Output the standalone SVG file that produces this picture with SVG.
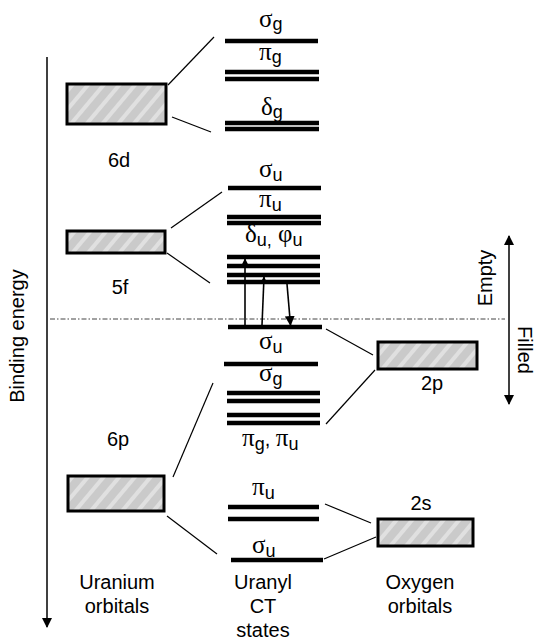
<svg xmlns="http://www.w3.org/2000/svg" width="537" height="640" viewBox="0 0 537 640">
  <style>
    .lbl { font-family: "Liberation Sans", Arial, sans-serif; font-size: 20px; fill: #000; }
    .gk { font-family: "Liberation Serif", "Times New Roman", serif; font-size: 25px; }
    .sub { font-family: "Liberation Sans", Arial, sans-serif; font-size: 18px; }
    .box { fill: url(#hatch); stroke: #000; stroke-width: 3; }
    .lvl { stroke: #000; stroke-width: 4.3; fill: none; }
    .conn { stroke: #000; stroke-width: 1.2; fill: none; }
    .arr { stroke: #000; stroke-width: 1.6; fill: none; }
  </style>
  <defs>
    <pattern id="hatch" patternUnits="userSpaceOnUse" width="12" height="12" patternTransform="rotate(40)">
      <rect width="12" height="12" fill="#cacaca"/>
      <rect width="4" height="12" fill="#e0e0e0"/>
    </pattern>
    <marker id="tip" viewBox="0 0 10 10" refX="9" refY="5" markerWidth="10" markerHeight="10" markerUnits="userSpaceOnUse" orient="auto">
      <path d="M0,0 L10,5 L0,10 Z" fill="#000"/>
    </marker>
    <marker id="tipS" viewBox="0 0 10 10" refX="9" refY="5" markerWidth="7" markerHeight="7" markerUnits="userSpaceOnUse" orient="auto">
      <path d="M0,0 L10,5 L0,10 Z" fill="#000"/>
    </marker>
    <marker id="tipB" viewBox="0 0 10 10" refX="1" refY="5" markerWidth="10" markerHeight="10" markerUnits="userSpaceOnUse" orient="auto">
      <path d="M10,0 L0,5 L10,10 Z" fill="#000"/>
    </marker>
  </defs>

  <!-- energy axis -->
  <g id="axis">
    <line x1="47" y1="57" x2="47" y2="627" stroke="#000" stroke-width="1.5" marker-end="url(#tip)"/>
    <text class="lbl" transform="translate(24,336) rotate(-90)" text-anchor="middle">Binding energy</text>
  </g>

  <!-- Fermi level separator -->
  <g id="fermi">
    <line x1="50" y1="319" x2="505" y2="319" stroke="#444" stroke-width="1" stroke-dasharray="5 2 1.5 2"/>
  </g>

  <!-- empty / filled indicator -->
  <g id="occupancy">
    <line x1="509" y1="236" x2="509" y2="404" stroke="#000" stroke-width="1.5" marker-start="url(#tipB)" marker-end="url(#tip)"/>
    <text class="lbl" transform="translate(492,278) rotate(-90)" text-anchor="middle">Empty</text>
    <text class="lbl" transform="translate(518,350) rotate(90)" text-anchor="middle">Filled</text>
  </g>

  <!-- uranium orbitals -->
  <g id="u6d">
    <rect class="box" x="67" y="84" width="99" height="40"/>
    <text class="lbl" x="119" y="167" text-anchor="middle">6d</text>
  </g>
  <g id="u5f">
    <rect class="box" x="67" y="231" width="98" height="22"/>
    <text class="lbl" x="120" y="294" text-anchor="middle">5f</text>
  </g>
  <g id="u6p">
    <rect class="box" x="68" y="476" width="96" height="35"/>
    <text class="lbl" x="118" y="446" text-anchor="middle">6p</text>
  </g>

  <!-- oxygen orbitals -->
  <g id="o2p">
    <rect class="box" x="378" y="342" width="99" height="27"/>
    <text class="lbl" x="432" y="390" text-anchor="middle">2p</text>
  </g>
  <g id="o2s">
    <rect class="box" x="378" y="519" width="95" height="27"/>
    <text class="lbl" x="421" y="510" text-anchor="middle">2s</text>
  </g>

  <!-- uranyl molecular levels -->
  <g id="sigma_g_top">
    <line class="lvl" x1="225" y1="41" x2="318" y2="41"/>
    <text class="lbl" x="259" y="27"><tspan class="gk">σ</tspan><tspan class="sub" dy="3">g</tspan></text>
  </g>
  <g id="pi_g_top">
    <line class="lvl" x1="225" y1="72" x2="319" y2="72"/>
    <line class="lvl" x1="225" y1="79" x2="319" y2="79"/>
    <text class="lbl" x="259" y="60"><tspan class="gk">π</tspan><tspan class="sub" dy="3">g</tspan></text>
  </g>
  <g id="delta_g">
    <line class="lvl" x1="225" y1="123" x2="319" y2="123"/>
    <line class="lvl" x1="225" y1="129" x2="319" y2="129"/>
    <text class="lbl" x="261" y="115"><tspan class="gk">δ</tspan><tspan class="sub" dy="3">g</tspan></text>
  </g>
  <g id="sigma_u_upper">
    <line class="lvl" x1="228" y1="188" x2="321" y2="188"/>
    <text class="lbl" x="259" y="177"><tspan class="gk">σ</tspan><tspan class="sub" dy="4">u</tspan></text>
  </g>
  <g id="pi_u_upper">
    <line class="lvl" x1="227" y1="217" x2="321" y2="217"/>
    <line class="lvl" x1="227" y1="223" x2="321" y2="223"/>
    <text class="lbl" x="259" y="207"><tspan class="gk">π</tspan><tspan class="sub" dy="4">u</tspan></text>
  </g>
  <g id="delta_phi_u">
    <line class="lvl" x1="227" y1="257" x2="320" y2="257"/>
    <line class="lvl" x1="227" y1="266" x2="320" y2="266"/>
    <line class="lvl" x1="227" y1="275" x2="320" y2="275"/>
    <line class="lvl" x1="227" y1="282" x2="320" y2="282"/>
    <text class="lbl" x="245" y="242"><tspan class="gk">δ</tspan><tspan class="sub" dy="4">u,</tspan><tspan class="gk" dy="-4"> φ</tspan><tspan class="sub" dy="4">u</tspan></text>
  </g>
  <g id="sigma_u_mid">
    <line class="lvl" x1="228" y1="327" x2="322" y2="327"/>
    <text class="lbl" x="259" y="349"><tspan class="gk">σ</tspan><tspan class="sub" dy="4">u</tspan></text>
  </g>
  <g id="sigma_g_mid">
    <line class="lvl" x1="224" y1="364" x2="318" y2="364"/>
    <text class="lbl" x="259" y="381"><tspan class="gk">σ</tspan><tspan class="sub" dy="4">g</tspan></text>
  </g>
  <g id="pi_g_pi_u">
    <line class="lvl" x1="227" y1="393" x2="320" y2="393"/>
    <line class="lvl" x1="227" y1="401" x2="320" y2="401"/>
    <line class="lvl" x1="227" y1="415" x2="320" y2="415"/>
    <line class="lvl" x1="227" y1="423" x2="320" y2="423"/>
    <text class="lbl" x="242" y="446"><tspan class="gk">π</tspan><tspan class="sub" dy="4">g</tspan><tspan dy="-4">, </tspan><tspan class="gk">π</tspan><tspan class="sub" dy="4">u</tspan></text>
  </g>
  <g id="pi_u_low">
    <line class="lvl" x1="228" y1="507" x2="319" y2="507"/>
    <line class="lvl" x1="228" y1="519" x2="319" y2="519"/>
    <text class="lbl" x="252" y="495"><tspan class="gk">π</tspan><tspan class="sub" dy="4">u</tspan></text>
  </g>
  <g id="sigma_u_low">
    <line class="lvl" x1="231" y1="560" x2="323" y2="560"/>
    <text class="lbl" x="252" y="553"><tspan class="gk">σ</tspan><tspan class="sub" dy="4">u</tspan></text>
  </g>

  <!-- correlation lines and transitions -->
  <g id="connectors">
    <line class="conn" x1="168" y1="85" x2="214" y2="37"/>
    <line class="conn" x1="172" y1="117" x2="211" y2="132"/>
    <line class="conn" x1="171" y1="228" x2="222" y2="192"/>
    <line class="conn" x1="167" y1="253" x2="210" y2="283"/>
    <line class="conn" x1="173" y1="477" x2="213" y2="383"/>
    <line class="conn" x1="167" y1="516" x2="217" y2="554"/>
    <line class="conn" x1="326" y1="329" x2="373" y2="355"/>
    <line class="conn" x1="375" y1="370" x2="326" y2="424"/>
    <line class="conn" x1="325" y1="504" x2="371" y2="523"/>
    <line class="conn" x1="376" y1="537" x2="324" y2="559"/>
    <line class="arr" x1="245" y1="325" x2="245" y2="259" marker-end="url(#tipS)"/>
    <line class="arr" x1="262" y1="325" x2="264" y2="277" marker-end="url(#tipS)"/>
    <line class="arr" x1="287" y1="284" x2="290.5" y2="325" marker-end="url(#tip)"/>
  </g>

  <!-- column captions -->
  <g id="captions">
    <text class="lbl" x="117" y="589" text-anchor="middle">Uranium</text>
    <text class="lbl" x="117" y="613" text-anchor="middle">orbitals</text>
    <text class="lbl" x="263" y="589" text-anchor="middle">Uranyl</text>
    <text class="lbl" x="263" y="613" text-anchor="middle">CT</text>
    <text class="lbl" x="263" y="637" text-anchor="middle">states</text>
    <text class="lbl" x="420" y="589" text-anchor="middle">Oxygen</text>
    <text class="lbl" x="420" y="613" text-anchor="middle">orbitals</text>
  </g>
</svg>
